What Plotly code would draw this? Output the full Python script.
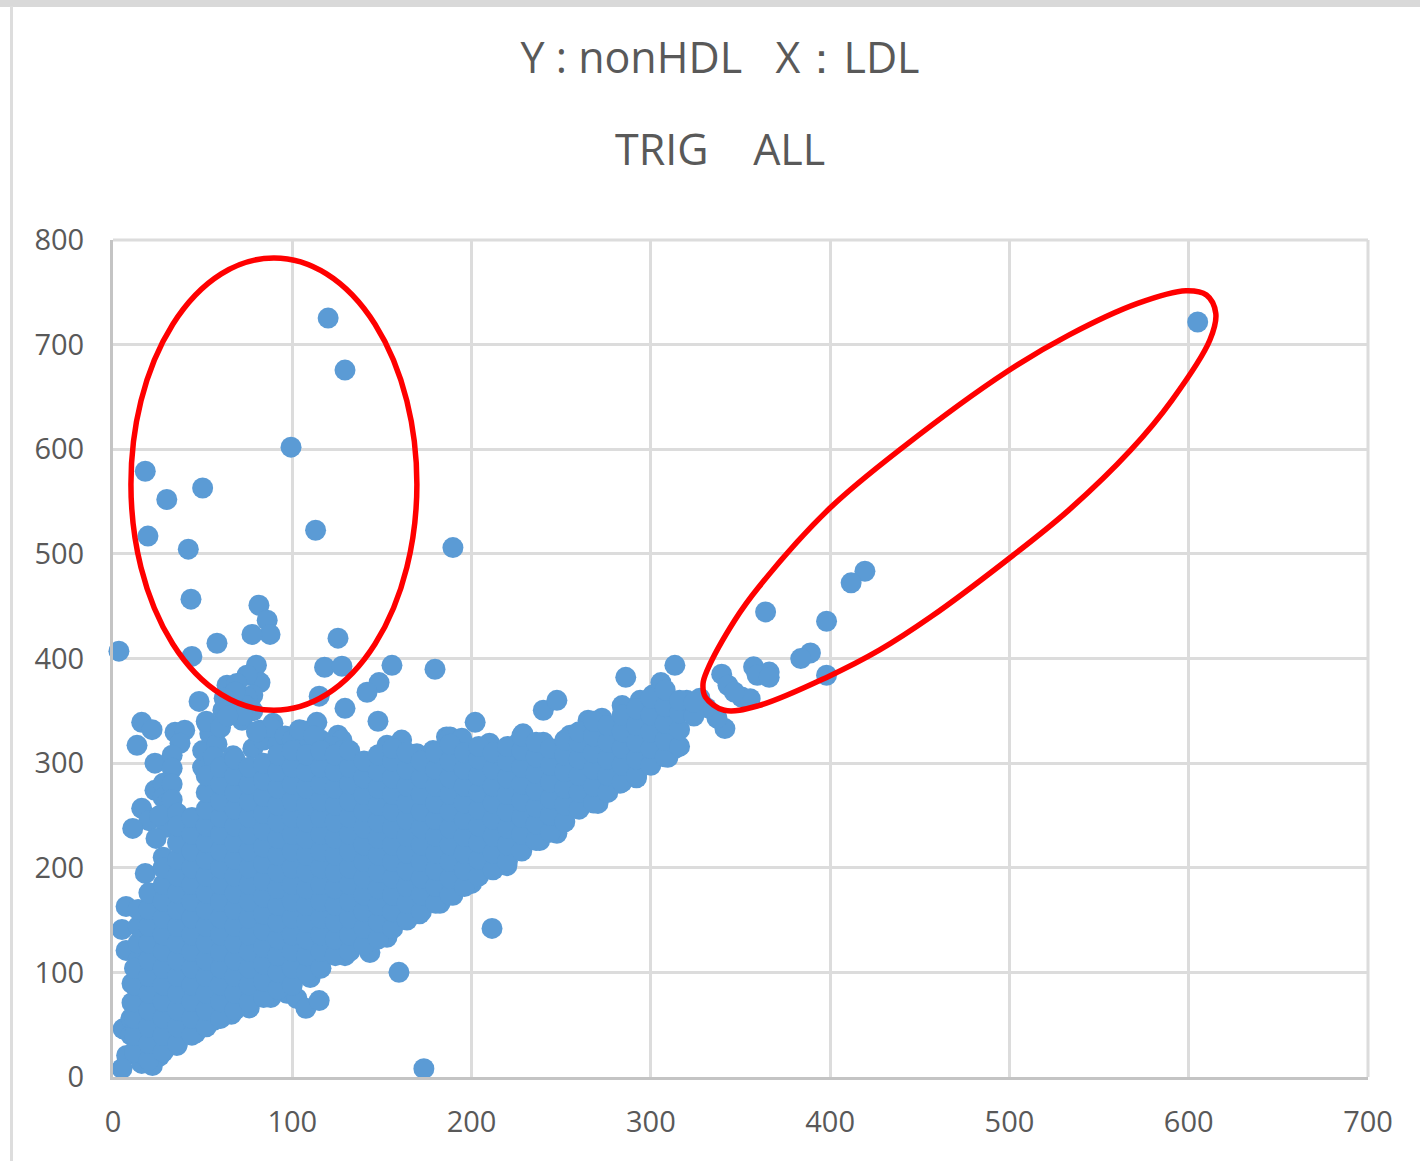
import plotly.graph_objects as go

title_line_1 = "Y : nonHDL\u00a0\u00a0\u00a0X\uff1aLDL"
title_line_2 = "TRIG\u00a0\u00a0\u00a0\u00a0ALL"
x_ticks = [0, 100, 200, 300, 400, 500, 600, 700]
y_ticks = [0, 100, 200, 300, 400, 500, 600, 700, 800]

# Isolated and edge points
edge_x = [605, 120, 129.4, 99.3, 18, 30, 50, 19.5, 113, 42, 189.6, 43.5, 81.4, 86, 87.6, 77.5, 125.5, 58, 3.3, 44,
          118, 127.7, 155.6, 179.6, 80, 148.4, 141.7, 115, 48, 129.4, 147.8, 82, 74.7, 63.6, 69, 78, 74.7, 61.3, 52.4, 72,
          16, 21.8, 13.4, 34.6, 40, 37.4, 23.4, 33, 33, 23.4, 16, 20, 11, 28, 28, 30, 28, 18, 20.6, 7.3,
          5, 7.3, 10.6, 10.6, 5.6, 7.6, 5, 22, 16, 35.6, 56, 76, 97, 102.6, 107.6, 115, 110, 129.4, 143.3, 152.8,
          171, 182.4, 159.5, 173.4, 211.4, 82, 89.2, 106, 113.7, 125.5, 127.7, 152.8, 161, 169.5, 178.5, 186, 134, 122.7, 67, 50,
          202, 188, 194.6, 210, 228.7, 226, 240, 255, 265, 272.7, 279, 240, 247.6, 286, 284, 294, 313.4, 305.6, 301, 314.6,
          327.4, 320, 341.3, 336.9, 331, 309.5, 313.4, 292, 282.8, 270.5, 259.3, 247.6, 238, 219.7, 206, 200, 189.6, 180.7,
          419.4, 411.7, 364, 398, 389, 383.6, 398, 357.3, 366, 359.3, 366, 339.5, 343, 350.6, 355.4, 346.5]
edge_y = [721.6, 725.4, 675.7, 602, 579, 552, 563, 517, 522.6, 504.5, 506, 456.7, 451, 436.6, 423, 423, 419.4, 414.6, 407, 402,
          391.6, 392.6, 393.5, 389.7, 393.6, 377, 367.7, 364, 359, 352.4, 340, 377, 384, 374.4, 376, 365, 363, 350.5, 338, 341,
          339, 332, 317, 329.5, 331.4, 319, 300, 307.5, 295, 274, 256.8, 245, 237.6, 280.7, 267, 238.6, 210, 194.6, 175.5, 163,
          141, 121, 89.4, 71, 46, 20.6, 8, 11, 13, 30, 54, 66, 80, 75, 65.6, 73, 95, 116, 119, 133.5,
          156, 166, 100, 8, 142, 331.4, 338, 331, 339, 326.6, 322, 317, 322, 309, 312, 325, 300, 303, 307, 296,
          339, 325, 323.7, 319, 328, 319, 320, 326.6, 341, 343, 331, 350.5, 360, 382, 355, 360, 393.5, 377, 365, 358,
          362, 360, 333, 343, 353, 305.5, 314, 286, 280.7, 261.5, 256.8, 232.9, 226, 202, 200, 185, 173.6, 167,
          483.4, 472.3, 444.5, 435.6, 405.3, 399.9, 384, 392, 387, 384, 382, 385, 374.4, 363.2, 361.6, 368]

# Blobs that rise above the cloud's top edge, and fill along its left edge
blob_x = [50, 54, 58, 52, 60, 56, 78, 84, 92, 88, 96, 80, 100, 108, 116, 122, 104, 112, 128, 66, 70, 74, 78, 68, 62, 72,
          64, 33, 30, 33, 26, 24, 36, 14, 14, 14, 14, 10, 10, 88, 66, 46, 26]
blob_y = [312, 328, 318, 340, 334, 306, 314, 322, 318, 334, 326, 330, 322, 318, 322, 316, 332, 326, 312, 360, 350, 355, 350, 368, 362, 346,
          345, 280, 262, 265, 250, 228, 252, 112, 128, 144, 160, 40, 56, 76, 60, 42, 20]

# The dense cloud, column by column
column_x = [12, 20, 28, 36, 44, 52, 60, 68, 76, 84, 92, 100, 108, 116, 124, 132, 140, 148, 156, 164, 172, 180, 188,
            196, 204, 212, 220, 228, 236, 244, 252, 260, 268, 276, 284, 292, 300, 308, 316, 324]
column_y = [
    [24, 40, 56, 72, 88, 104],
    [16, 32, 48, 64, 80, 96, 112, 128, 144, 160, 176],
    [24, 40, 56, 72, 88, 104, 120, 136, 152, 168, 184, 200],
    [32, 48, 64, 80, 96, 112, 128, 144, 160, 176, 192, 208, 224, 240],
    [40, 56, 72, 88, 104, 120, 136, 152, 168, 184, 200, 216, 232, 248],
    [48, 64, 80, 96, 112, 128, 144, 160, 176, 192, 208, 224, 240, 256, 272, 288],
    [56, 72, 88, 104, 120, 136, 152, 168, 184, 200, 216, 232, 248, 264, 280, 296],
    [64, 80, 96, 112, 128, 144, 160, 176, 192, 208, 224, 240, 256, 272, 288, 304],
    [72, 88, 104, 120, 136, 152, 168, 184, 200, 216, 232, 248, 264, 280, 296],
    [76, 92, 108, 124, 140, 156, 172, 188, 204, 220, 236, 252, 268, 284, 300],
    [84, 100, 116, 132, 148, 164, 180, 196, 212, 228, 244, 260, 276, 292, 308],
    [88, 104, 120, 136, 152, 168, 184, 200, 216, 232, 248, 264, 280, 296, 312],
    [100, 116, 132, 148, 164, 180, 196, 212, 228, 244, 260, 276, 292, 308],
    [104, 120, 136, 152, 168, 184, 200, 216, 232, 248, 264, 280, 296, 312],
    [116, 132, 148, 164, 180, 196, 212, 228, 244, 260, 276, 292, 308],
    [120, 136, 152, 168, 184, 200, 216, 232, 248, 264, 280, 296, 312],
    [126, 142, 158, 174, 190, 206, 222, 238, 254, 270, 286, 302],
    [132, 148, 164, 180, 196, 212, 228, 244, 260, 276, 292, 308],
    [142, 158, 174, 190, 206, 222, 238, 254, 270, 286, 302, 314],
    [150, 166, 182, 198, 214, 230, 246, 262, 278, 294, 310],
    [158, 174, 190, 206, 222, 238, 254, 270, 286, 302],
    [166, 182, 198, 214, 230, 246, 262, 278, 294, 310],
    [174, 190, 206, 222, 238, 254, 270, 286, 302, 318],
    [182, 198, 214, 230, 246, 262, 278, 294, 310],
    [192, 208, 224, 240, 256, 272, 288, 304, 316],
    [198, 214, 230, 246, 262, 278, 294, 310],
    [206, 222, 238, 254, 270, 286, 302, 316],
    [216, 232, 248, 264, 280, 296, 312, 326],
    [226, 242, 258, 274, 290, 306, 320],
    [234, 250, 266, 282, 298, 314],
    [244, 260, 276, 292, 308, 322],
    [256, 272, 288, 304, 320, 330],
    [262, 278, 294, 310, 326, 340],
    [272, 288, 304, 320, 336],
    [282, 298, 314, 330, 346],
    [288, 304, 320, 336, 352],
    [298, 314, 330, 346, 362],
    [306, 322, 338, 354, 370],
    [316, 332, 348, 360],
    [345, 358],
]

# Hand-drawn red outline around the right-hand group
loop_x = [598.4, 609.9, 615.1, 611.8, 590.7, 567.6, 533.1, 498.5, 456.2, 427.4, 398.6, 360.2, 341, 330.4, 329.1, 331.4,
          346.8, 360.2, 399.6, 440.9, 498.5, 533.1, 571.5, 598.4]
loop_y = [751.5, 747.4, 729.9, 704.4, 647, 599.1, 541.8, 493.9, 439.8, 407.9, 382.4, 355, 350.5, 363.2, 376, 388.7,
          436.6, 468.4, 543.3, 602.3, 674.1, 709.1, 739.4, 751.5]

BLUE = "#5B9BD5"
GRID = "#DCDCDC"
TEXT = "#595959"
RED = "#FF0000"
FONT = "Open Sans"
PLOT_H = 837
AXIS_PX = 1077

all_x = list(edge_x) + list(blob_x)
all_y = list(edge_y) + list(blob_y)
for cx, ys in zip(column_x, column_y):
    all_x += [cx] * len(ys)
    all_y += ys

fig = go.Figure()
fig.add_trace(go.Scatter(x=all_x, y=all_y, mode="markers", cliponaxis=False,
                         marker=dict(color=BLUE, size=21, line=dict(width=0)), showlegend=False))
fig.add_trace(go.Scatter(x=loop_x, y=loop_y, mode="lines", cliponaxis=False,
                         line=dict(color=RED, width=5.5, shape="spline", smoothing=1.0), showlegend=False))

axis_common = dict(showgrid=True, gridcolor=GRID, gridwidth=3, zeroline=False, showline=True,
                   linecolor="#C4C4C4", linewidth=3, ticks="outside", tickcolor="rgba(0,0,0,0)",
                   tickfont=dict(family=FONT, size=29, color=TEXT))

fig.update_layout(
    width=1420, height=1161,
    margin=dict(l=113, r=52, t=240, b=84, pad=0),
    paper_bgcolor="white", plot_bgcolor="white",
    font=dict(family=FONT, color=TEXT),
    showlegend=False,
    title=dict(text=title_line_1, x=720 / 1420, xanchor="center", y=1 - 58 / 1161, yanchor="middle",
               font=dict(family=FONT, size=43, color=TEXT)),
    xaxis=dict(range=[0, 700], tickvals=x_ticks, ticklen=17, **axis_common),
    yaxis=dict(range=[0, 800], tickvals=y_ticks, ticklen=20, **axis_common),
    annotations=[dict(text=title_line_2, xref="paper", yref="paper", x=(720 - 113) / 1255, y=(AXIS_PX - 148) / PLOT_H,
                      xanchor="center", yanchor="middle", showarrow=False,
                      font=dict(family=FONT, size=43, color=TEXT))],
    shapes=[
        dict(type="line", xref="paper", yref="paper", x0=0, x1=1, y0=1, y1=1,
             line=dict(color=GRID, width=3), layer="below"),
        dict(type="line", xref="paper", yref="paper", x0=1, x1=1, y0=0, y1=1,
             line=dict(color=GRID, width=3), layer="below"),
        dict(type="circle", xref="x", yref="y", x0=10, x1=169.5, y0=350.5, y1=782.8,
             line=dict(color=RED, width=5.5), fillcolor="rgba(0,0,0,0)", layer="above"),
        dict(type="rect", xref="paper", yref="paper", x0=-113 / 1255, x1=1307 / 1255,
             y0=(AXIS_PX - 7) / PLOT_H, y1=AXIS_PX / PLOT_H, fillcolor="#D9D9D9", line=dict(width=0)),
        dict(type="rect", xref="paper", yref="paper", x0=(10 - 113) / 1255, x1=(13 - 113) / 1255,
             y0=(AXIS_PX - 1175) / PLOT_H, y1=(AXIS_PX - 6) / PLOT_H, fillcolor="#DDDDDD", line=dict(width=0)),
    ],
)

fig.write_html("out.html", config={"displayModeBar": False},
               post_script="document.body.style.margin='0';")
